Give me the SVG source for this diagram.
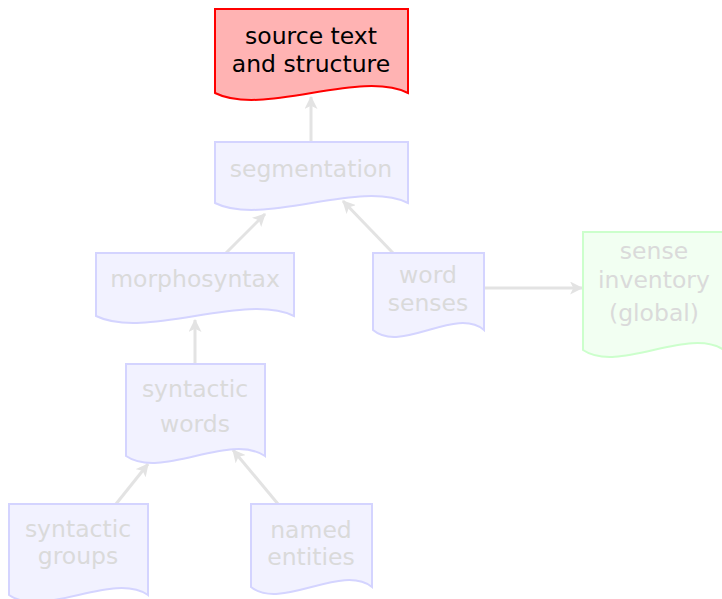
<svg xmlns="http://www.w3.org/2000/svg" width="722" height="599" viewBox="0 0 722 599">
<style>
.lbl{font-family:"DejaVu Sans","Liberation Sans",sans-serif;font-size:23.5px;text-anchor:middle;fill:#dadada}
.doc{fill:#f2f2ff;stroke:#d4d4ff;stroke-width:2}
.src{fill:#ffb3b3;stroke:#ff0000;stroke-width:2}
.glob{fill:#f2fff2;stroke:#ccffcc;stroke-width:2}
.edge{fill:none;stroke:#e3e3e3;stroke-width:3}
</style>
<defs>
<marker id="ah" viewBox="0 0 12 12" refX="11" refY="6" markerWidth="13" markerHeight="13" markerUnits="userSpaceOnUse" orient="auto">
<path d="M0,0 L12,6 L0,12 L3,6 Z" fill="#e3e3e3"/>
</marker>
</defs>
<g id="edges">
<path class="edge" d="M311,142 L311,97" marker-end="url(#ah)"/>
<path class="edge" d="M226,253 L265,214" marker-end="url(#ah)"/>
<path class="edge" d="M393,253 L343,201" marker-end="url(#ah)"/>
<path class="edge" d="M484,288 L582,288" marker-end="url(#ah)"/>
<path class="edge" d="M195,364 L195,320" marker-end="url(#ah)"/>
<path class="edge" d="M116,504 L148,464" marker-end="url(#ah)"/>
<path class="edge" d="M278,504 L233,450" marker-end="url(#ah)"/>
</g>
<g id="source">
<path class="src" d="M215,9 H408 V93 C360,69 263,117 215,93 Z"/>
<text class="lbl" x="311" y="44" style="fill:#000">source text</text>
<text class="lbl" x="311" y="72" style="fill:#000">and structure</text>
</g>
<g id="segmentation">
<path class="doc" d="M215,142 H408 V203 C360,179 263,227 215,203 Z"/>
<text class="lbl" x="311" y="177">segmentation</text>
</g>
<g id="morphosyntax">
<path class="doc" d="M96,253 H294 V316 C245,292 145,340 96,316 Z"/>
<text class="lbl" x="195" y="287">morphosyntax</text>
</g>
<g id="wordsenses">
<path class="doc" d="M373,253 H484 V330 C456,306 401,354 373,330 Z"/>
<text class="lbl" x="428" y="283">word</text>
<text class="lbl" x="428" y="311">senses</text>
</g>
<g id="senseinventory">
<path class="glob" d="M583,232 H724 V350 C689,326 618,374 583,350 Z"/>
<text class="lbl" x="654" y="259">sense</text>
<text class="lbl" x="654" y="288">inventory</text>
<text class="lbl" x="654" y="321">(global)</text>
</g>
<g id="syntacticwords">
<path class="doc" d="M126,364 H265 V456 C230,432 161,480 126,456 Z"/>
<text class="lbl" x="195" y="397">syntactic</text>
<text class="lbl" x="195" y="432">words</text>
</g>
<g id="syntacticgroups">
<path class="doc" d="M9,504 H148 V595 C113,571 44,619 9,595 Z"/>
<text class="lbl" x="78" y="537">syntactic</text>
<text class="lbl" x="78" y="564">groups</text>
</g>
<g id="namedentities">
<path class="doc" d="M251,504 H372 V587 C342,563 281,611 251,587 Z"/>
<text class="lbl" x="311" y="538">named</text>
<text class="lbl" x="311" y="565">entities</text>
</g>
</svg>
